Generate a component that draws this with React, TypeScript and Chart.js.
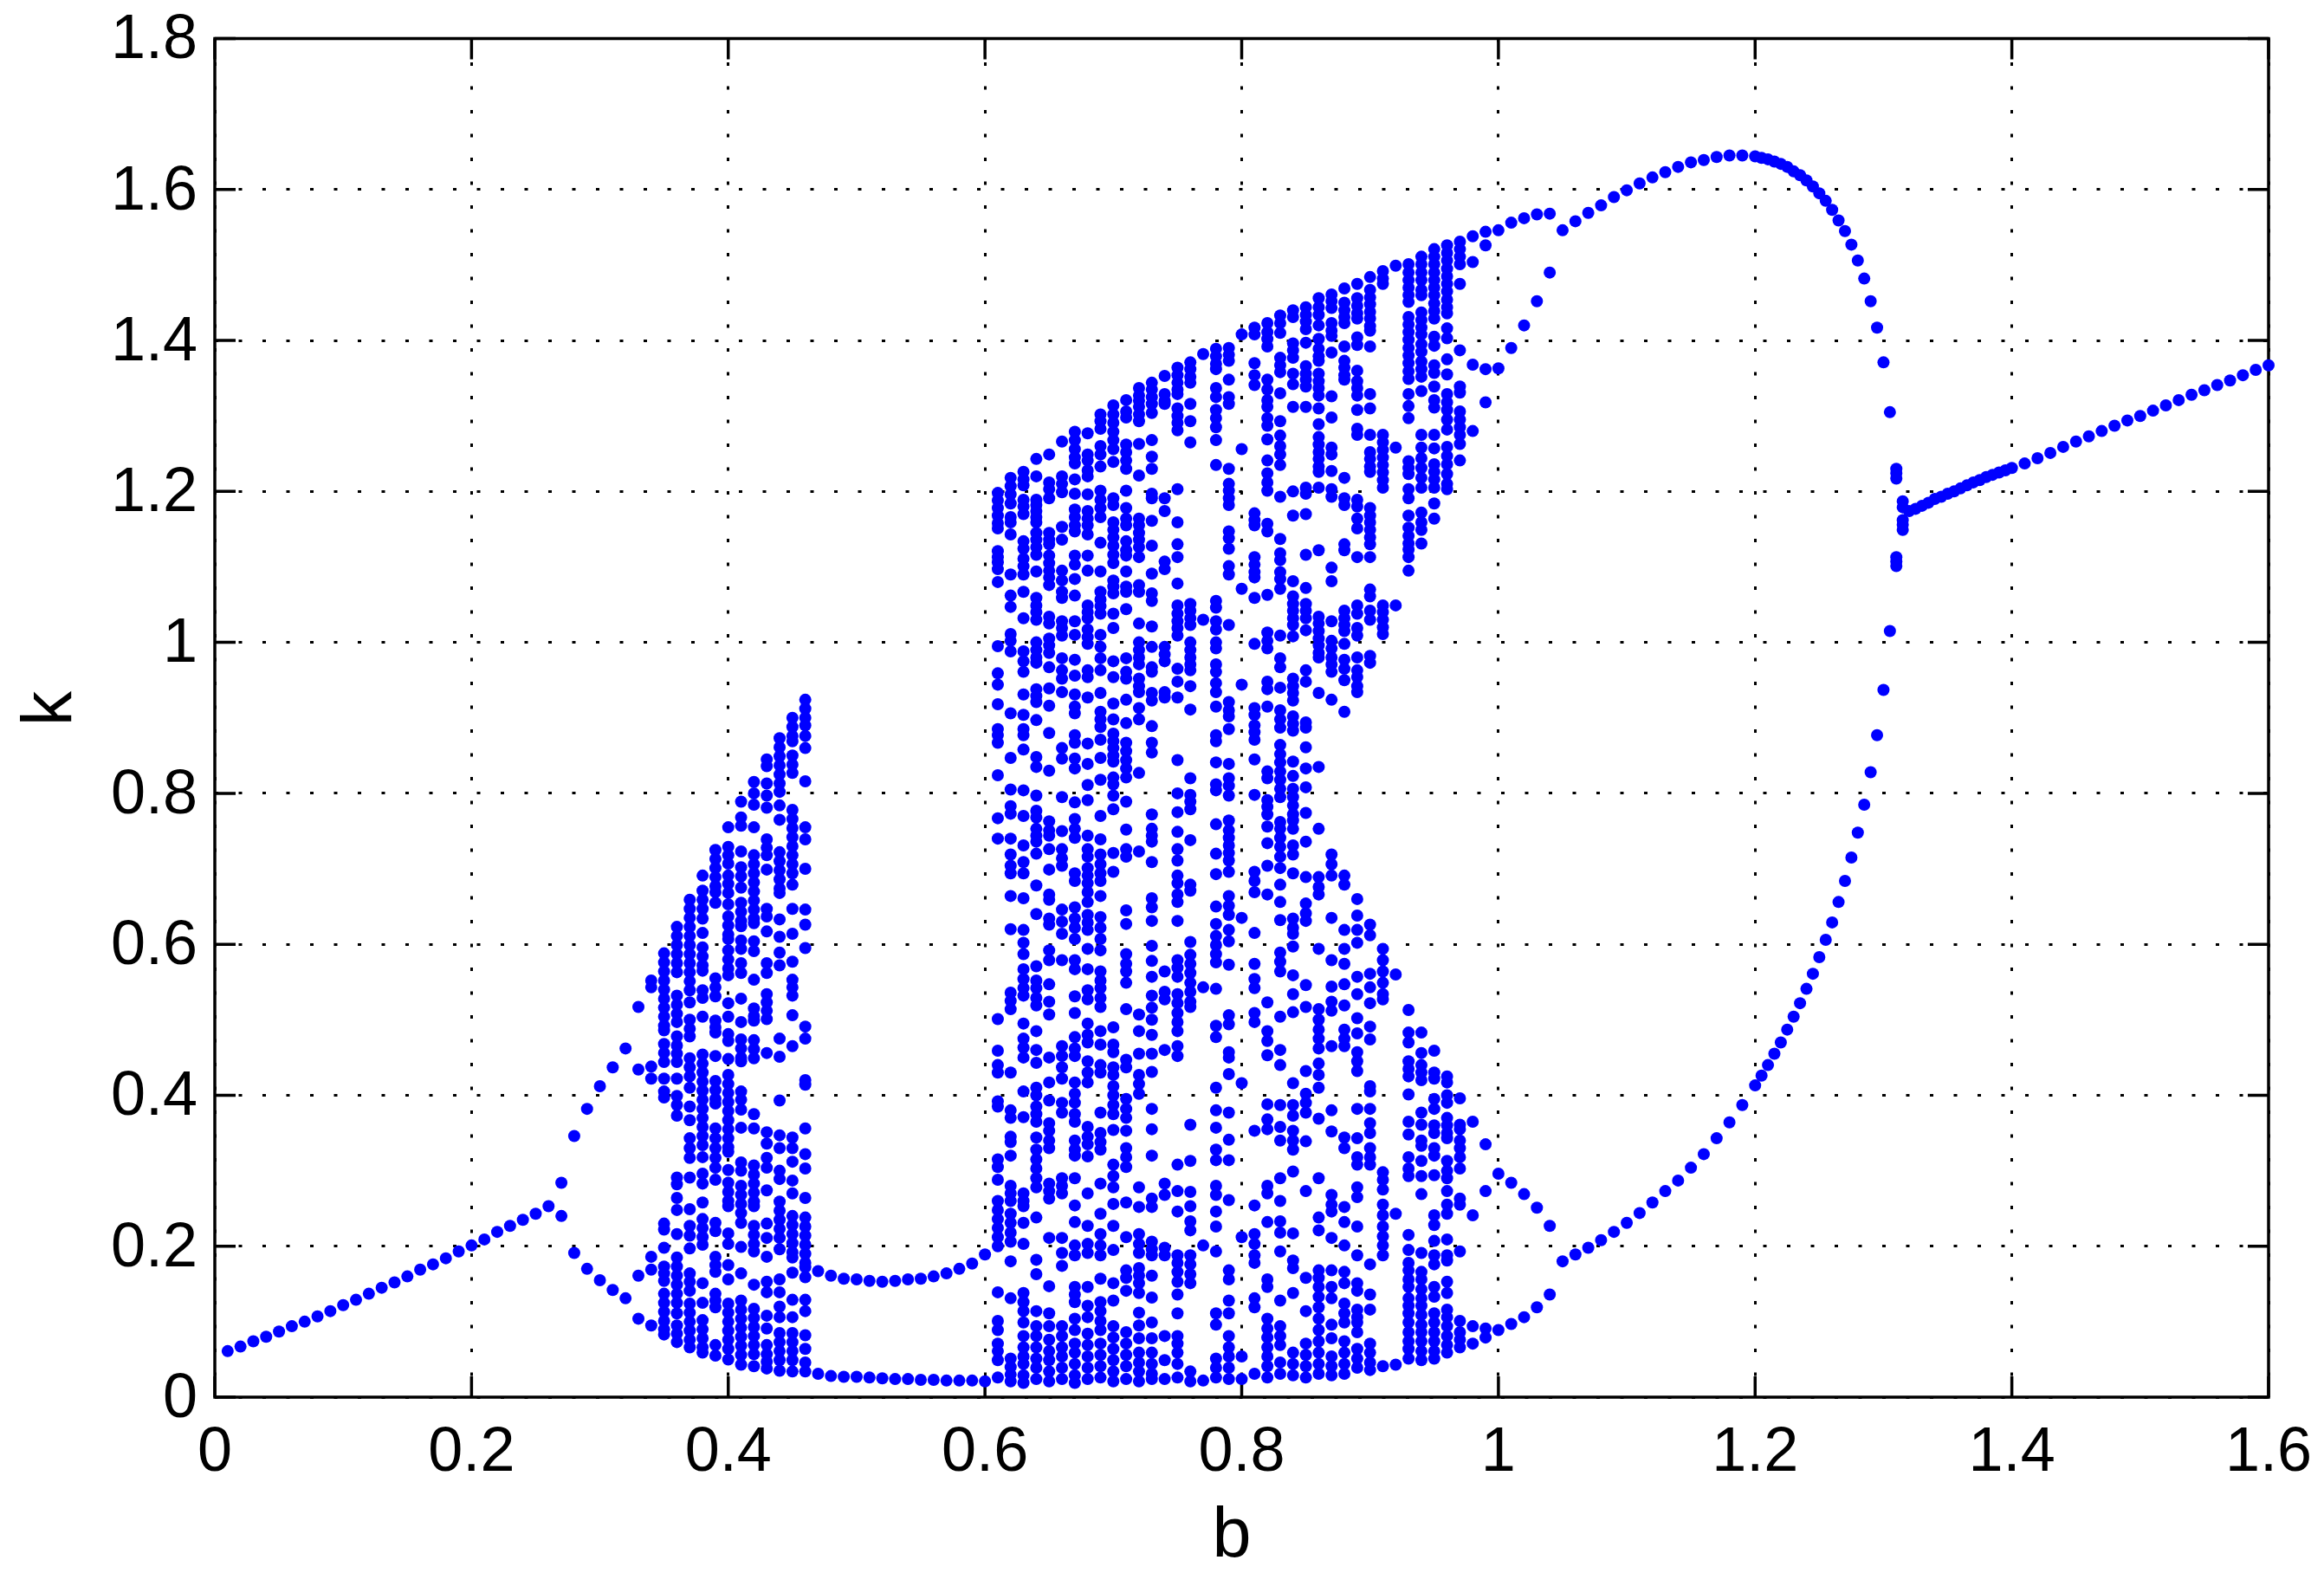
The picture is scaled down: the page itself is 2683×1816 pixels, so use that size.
import { useEffect, useRef } from "react"
import { Chart, registerables } from "chart.js"

Chart.register(...registerables)

const xTickValues = [0, 0.2, 0.4, 0.6, 0.8, 1, 1.2, 1.4, 1.6]
const xTickLabels = ["0", "0.2", "0.4", "0.6", "0.8", "1", "1.2", "1.4", "1.6"]
const yTickValues = [0, 0.2, 0.4, 0.6, 0.8, 1, 1.2, 1.4, 1.6, 1.8]
const yTickLabels = ["0", "0.2", "0.4", "0.6", "0.8", "1", "1.2", "1.4", "1.6", "1.8"]

// single branch before the first split
const rampB = [.01, .02, .03, .04, .05, .06, .07, .08, .09, .10, .11, .12, .13, .14, .15, .16, .17, .18, .19, .20, .21, .22, .23, .24, .25, .26]
const rampK = [.061, .067, .074, .08, .087, .094, .1, .107, .114, .122, .129, .137, .145, .152, .16, .169, .176, .184, .193, .201, .209, .219, .227, .235, .243, .253]

// columns of k per b
const bandB = [.27, .28, .29, .30, .31, .32, .33, .34, .35, .36, .37, .38, .39, .40, .41, .42, .43, .44, .45, .46,
  .47, .48, .49, .50, .51, .52, .53, .54, .55, .56, .57, .58, .59, .60,
  .61, .62, .63, .64, .65, .66, .67, .68, .69, .70, .71, .72, .73, .74, .75, .76, .77, .78, .79, .80,
  .81, .82, .83, .84, .85, .86, .87, .88, .89, .90, .91, .92, .93, .94, .95, .96, .97, .98, .99, 1, 1.01, 1.02, 1.03, 1.04]
const bandK: number[][] = [
  [.284, .24],
  [.346, .191],
  [.382, .17],
  [.412, .155],
  [.437, .142],
  [.462, .131],
  [.517, .434, .161, .104],
  [.552, .543, .438, .422, .186, .169, .095],
  [.588, .576, .564, .552, .54, .528, .516, .504, .492, .486, .468, .456, .444, .422, .405, .397, .23, .222, .198, .173, .164, .154, .137, .125, .113, .101, .09, .083],
  [.623, .611, .599, .587, .575, .563, .532, .52, .508, .497, .478, .466, .455, .444, .422, .399, .387, .373, .291, .282, .264, .248, .216, .185, .173, .161, .149, .137, .125, .111, .095, .084, .073],
  [.659, .647, .635, .623, .611, .599, .587, .575, .563, .551, .539, .523, .5, .488, .478, .449, .437, .425, .41, .385, .367, .343, .33, .317, .291, .249, .227, .214, .197, .164, .153, .141, .124, .112, .1, .088, .076, .066],
  [.691, .671, .659, .647, .634, .615, .596, .584, .572, .565, .539, .529, .504, .454, .442, .43, .418, .406, .394, .382, .37, .358, .346, .334, .318, .296, .283, .258, .236, .224, .212, .202, .151, .125, .102, .09, .078, .066, .059],
  [.725, .713, .701, .689, .677, .669, .655, .555, .543, .531, .499, .49, .483, .452, .419, .407, .395, .389, .356, .343, .33, .317, .304, .288, .231, .22, .186, .175, .166, .137, .128, .119, .069, .055],
  [.755, .729, .718, .707, .691, .68, .668, .653, .637, .625, .613, .607, .592, .58, .568, .559, .522, .504, .481, .472, .448, .427, .415, .403, .391, .379, .367, .355, .343, .331, .325, .301, .284, .272, .26, .253, .217, .203, .175, .156, .124, .112, .1, .088, .076, .064, .05],
  [.789, .768, .757, .723, .702, .69, .675, .655, .643, .631, .624, .605, .594, .575, .562, .528, .497, .474, .462, .45, .445, .405, .394, .381, .357, .311, .3, .28, .268, .256, .244, .231, .199, .164, .128, .116, .104, .092, .08, .068, .056, .043],
  [.815, .8, .785, .755, .718, .706, .694, .682, .67, .658, .646, .634, .628, .604, .591, .553, .515, .505, .499, .473, .461, .449, .375, .356, .307, .295, .283, .271, .259, .253, .227, .215, .203, .193, .149, .117, .105, .093, .081, .069, .057, .041],
  [.845, .836, .813, .797, .781, .739, .728, .718, .699, .647, .637, .617, .575, .562, .534, .523, .512, .501, .456, .351, .336, .317, .304, .274, .23, .211, .186, .153, .139, .108, .091, .069, .057, .047, .038],
  [.873, .861, .849, .837, .825, .813, .802, .784, .765, .722, .71, .698, .686, .674, .668, .633, .61, .589, .572, .475, .451, .393, .347, .33, .3, .289, .259, .247, .235, .223, .211, .196, .156, .139, .12, .106, .085, .073, .061, .049, .035],
  [.9, .888, .876, .869, .85, .838, .827, .778, .766, .754, .742, .73, .718, .706, .694, .679, .647, .614, .577, .553, .543, .532, .506, .465, .344, .33, .312, .287, .27, .24, .228, .216, .204, .192, .185, .165, .129, .106, .085, .073, .061, .049, .034],
  [.924, .912, .9, .89, .876, .86, .816, .755, .739, .7, .646, .626, .595, .491, .475, .42, .414, .356, .322, .303, .264, .238, .226, .214, .202, .19, .178, .172, .159, .129, .114, .082, .064, .046, .034],
  [.167, .031],
  [.161, .028],
  [.157, .027],
  [.156, .027],
  [.154, .026],
  [.153, .025],
  [.154, .024],
  [.156, .024],
  [.157, .023],
  [.16, .023],
  [.164, .022],
  [.17, .022],
  [.177, .022],
  [.189, .021],
  [1.198, 1.188, 1.178, 1.168, 1.158, 1.151, 1.121, 1.113, 1.106, 1.097, 1.08, .995, .959, .944, .918, .885, .877, .867, .824, .767, .74, .501, .459, .44, .43, .392, .385, .315, .305, .288, .26, .248, .236, .224, .212, .2, .139, .101, .089, .071, .061, .049, .026],
  [1.218, 1.207, 1.196, 1.184, 1.166, 1.159, 1.143, 1.09, 1.062, 1.047, 1.011, 1.002, .988, .906, .847, .805, .783, .773, .74, .719, .704, .694, .664, .62, .536, .525, .514, .43, .38, .37, .345, .338, .32, .28, .27, .26, .243, .231, .218, .206, .18, .131, .051, .04, .03, .021],
  [1.226, 1.216, 1.208, 1.189, 1.18, 1.17, 1.134, 1.124, 1.111, 1.101, 1.09, 1.067, 1.032, .988, .975, .961, .931, .904, .885, .877, .858, .804, .77, .731, .709, .694, .661, .619, .602, .587, .567, .554, .542, .532, .495, .475, .463, .45, .405, .371, .27, .26, .253, .231, .203, .138, .126, .114, .099, .081, .066, .054, .044, .029, .019],
  [1.243, 1.22, 1.189, 1.182, 1.174, 1.166, 1.159, 1.145, 1.136, 1.126, 1.116, 1.094, 1.059, 1.049, 1.04, 1.03, 1, .99, .98, .973, .938, .929, .921, .897, .848, .835, .797, .777, .768, .753, .744, .736, .72, .678, .64, .571, .552, .542, .529, .519, .485, .46, .443, .41, .4, .385, .375, .365, .344, .328, .315, .303, .29, .278, .238, .182, .163, .114, .094, .081, .066, .051, .039, .024],
  [1.249, 1.212, 1.203, 1.191, 1.145, 1.136, 1.13, 1.115, 1.105, 1.095, 1.086, 1.076, 1.034, 1.025, 1.005, .996, .986, .967, .939, .916, .88, .83, .763, .751, .744, .726, .699, .666, .659, .634, .626, .592, .579, .547, .524, .507, .45, .417, .393, .363, .353, .34, .33, .283, .273, .263, .211, .147, .111, .094, .076, .061, .049, .034, .021],
  [1.266, 1.22, 1.21, 1.199, 1.153, 1.136, 1.095, 1.082, 1.067, 1.059, 1.028, 1.019, 1.009, .979, .963, .952, .934, .86, .846, .795, .75, .726, .714, .704, .646, .63, .614, .579, .465, .452, .437, .422, .39, .377, .29, .28, .27, .211, .191, .174, .094, .081, .066, .054, .039, .024],
  [1.279, 1.268, 1.256, 1.245, 1.237, 1.216, 1.197, 1.176, 1.166, 1.155, 1.147, 1.115, 1.103, 1.084, 1.062, 1.028, 1.01, .977, .956, .931, .915, .906, .877, .867, .846, .833, .788, .766, .753, .741, .694, .684, .649, .634, .622, .607, .579, .567, .531, .509, .477, .462, .452, .417, .402, .39, .375, .365, .34, .328, .32, .29, .254, .232, .201, .188, .146, .136, .126, .104, .089, .071, .059, .044, .029, .019],
  [1.277, 1.249, 1.241, 1.228, 1.22, 1.196, 1.174, 1.164, 1.155, 1.143, 1.115, 1.095, 1.049, 1.04, 1.032, 1.017, 1.007, .998, .963, .954, .927, .866, .839, .811, .791, .744, .726, .716, .701, .691, .681, .669, .656, .639, .629, .619, .594, .567, .539, .527, .495, .48, .47, .445, .43, .417, .358, .345, .335, .319, .27, .227, .203, .191, .146, .121, .106, .084, .069, .054, .039, .024],
  [1.302, 1.293, 1.283, 1.26, 1.249, 1.233, 1.201, 1.189, 1.178, 1.166, 1.132, 1.094, 1.067, 1.057, 1.048, 1.038, 1.01, .994, .979, .963, .933, .908, .898, .888, .871, .847, .818, .77, .739, .719, .706, .694, .684, .664, .636, .622, .607, .592, .564, .552, .542, .529, .517, .485, .467, .44, .43, .377, .35, .338, .328, .283, .243, .216, .201, .188, .157, .126, .114, .101, .089, .071, .056, .041, .026],
  [1.314, 1.302, 1.291, 1.279, 1.268, 1.256, 1.239, 1.191, 1.182, 1.159, 1.149, 1.139, 1.128, 1.116, 1.105, 1.082, 1.074, 1.065, 1.038, 1.019, .975, .954, .919, .898, .879, .869, .86, .85, .842, .821, .812, .797, .779, .721, .696, .49, .467, .457, .437, .427, .412, .4, .387, .375, .354, .308, .293, .278, .256, .227, .195, .151, .128, .094, .079, .064, .049, .034, .021],
  [1.321, 1.306, 1.298, 1.262, 1.252, 1.241, 1.23, 1.201, 1.178, 1.164, 1.155, 1.134, 1.122, 1.115, 1.094, 1.074, 1.067, 1.044, .979, .961, .952, .924, .893, .867, .856, .844, .833, .821, .789, .752, .726, .716, .645, .627, .587, .574, .564, .549, .514, .447, .437, .395, .382, .37, .353, .33, .318, .305, .258, .212, .168, .158, .141, .086, .071, .056, .041, .024],
  [1.337, 1.327, 1.32, 1.312, 1.302, 1.293, 1.263, 1.221, 1.164, 1.155, 1.145, 1.136, 1.126, 1.113, 1.076, 1.067, 1.025, 1, .99, .98, .971, .952, .942, .934, .913, .898, .827, .723, .507, .485, .455, .427, .415, .402, .278, .252, .216, .203, .191, .171, .161, .151, .138, .112, .095, .078, .059, .046, .034, .021],
  [1.344, 1.335, 1.325, 1.316, 1.304, 1.268, 1.246, 1.23, 1.197, 1.191, 1.161, 1.128, 1.091, 1.065, 1.055, 1.021, .994, .967, .961, .933, .923, .889, .867, .854, .772, .753, .744, .736, .709, .661, .649, .631, .598, .578, .557, .532, .516, .5, .48, .455, .431, .382, .355, .32, .263, .252, .206, .196, .188, .161, .132, .099, .078, .059, .044, .031, .024],
  [1.353, 1.329, 1.32, 1.316, 1.191, 1.174, 1.107, 1.097, .994, .984, .975, .934, .927, .564, .537, .527, .46, .283, .268, .198, .188, .081, .049, .024],
  [1.364, 1.354, 1.344, 1.335, 1.329, 1.31, 1.3, 1.291, 1.281, 1.203, 1.159, 1.13, 1.113, 1.078, 1.049, 1.038, 1.028, 1.019, 1.009, .965, .948, .927, .844, .8, .775, .749, .726, .711, .691, .681, .666, .656, .631, .579, .569, .557, .534, .522, .509, .497, .485, .465, .452, .308, .273, .246, .188, .178, .166, .153, .136, .111, .081, .071, .059, .044, .026],
  [1.371, 1.362, 1.352, 1.344, 1.316, 1.293, 1.265, 1.051, 1.042, 1.032, 1.023, 1, .99, .98, .971, .963, .942, .911, .82, .798, .789, .779, .738, .679, .671, .603, .586, .574, .562, .549, .537, .524, .517, .361, .313, .272, .253, .233, .221, .188, .176, .163, .151, .034, .021],
  [1.382, 1.03, .543, .201, .022],
  [1.389, 1.379, 1.369, 1.362, 1.337, 1.325, 1.308, 1.297, 1.285, 1.268, 1.235, 1.055, 1.046, 1.028, 1.017, 1, .992, .971, .961, .946, .934, .915, .877, .869, .841, .812, .804, .759, .72, .693, .65, .627, .611, .599, .587, .576, .541, .492, .477, .41, .38, .357, .328, .314, .28, .268, .246, .226, .193, .111, .096, .051, .039, .026],
  [1.39, 1.381, 1.373, 1.348, 1.325, 1.316, 1.23, 1.21, 1.201, 1.191, 1.182, 1.147, 1.138, 1.124, 1.101, 1.09, 1.023, .921, .91, .902, .885, .839, .82, .81, .797, .764, .751, .741, .731, .721, .711, .696, .664, .651, .639, .619, .604, .573, .506, .494, .457, .45, .428, .377, .341, .314, .261, .168, .156, .128, .111, .081, .066, .054, .039, .024],
  [1.408, 1.256, 1.071, .944, .635, .416, .212, .054, .024],
  [1.417, 1.408, 1.37, 1.354, 1.341, 1.171, 1.162, 1.155, 1.113, 1.103, 1.093, 1.086, 1.059, .998, .913, .904, .89, .881, .871, .845, .798, .696, .684, .669, .615, .574, .554, .542, .509, .497, .353, .254, .216, .203, .188, .178, .131, .119, .031],
  [1.423, 1.411, 1.402, 1.392, 1.348, 1.335, 1.321, 1.312, 1.297, 1.287, 1.269, 1.241, 1.224, 1.212, 1.201, 1.157, 1.147, 1.063, 1.013, 1.002, .992, .948, .938, .915, .829, .82, .791, .782, .772, .756, .734, .704, .666, .523, .485, .472, .453, .388, .368, .355, .28, .27, .232, .156, .146, .104, .091, .079, .066, .054, .041, .026],
  [1.433, 1.423, 1.41, 1.377, 1.367, 1.358, 1.33, 1.293, 1.274, 1.26, 1.249, 1.235, 1.193, 1.137, 1.118, 1.109, 1.093, 1.084, 1.071, 1.009, .979, .967, .94, .91, .898, .887, .864, .852, .841, .829, .818, .806, .795, .762, .753, .741, .729, .716, .701, .679, .656, .632, .589, .577, .564, .504, .46, .44, .387, .358, .34, .29, .26, .233, .218, .193, .128, .094, .081, .069, .046, .031],
  [1.44, 1.431, 1.396, 1.387, 1.377, 1.356, 1.342, 1.312, 1.2, 1.168, 1.081, 1.061, 1.051, 1.042, 1.032, 1.023, 1.008, .952, .942, .933, .923, .902, .892, .883, .842, .823, .806, .795, .784, .772, .764, .753, .731, .719, .694, .634, .622, .614, .597, .559, .534, .51, .416, .387, .373, .353, .34, .328, .299, .217, .181, .171, .138, .059, .044, .029],
  [1.444, 1.434, 1.425, 1.415, 1.397, 1.366, 1.356, 1.348, 1.339, 1.312, 1.205, 1.197, 1.17, 1.116, 1.072, 1.051, 1.042, 1.032, 1.016, .963, .948, .894, .887, .861, .833, .808, .774, .736, .689, .654, .641, .631, .546, .517, .432, .402, .39, .377, .339, .273, .158, .114, .071, .056, .041, .026],
  [1.456, 1.444, 1.434, 1.42, 1.402, 1.389, 1.379, 1.373, 1.356, 1.346, 1.337, 1.327, 1.31, 1.289, 1.272, 1.262, 1.252, 1.243, 1.233, 1.226, 1.205, 1.122, 1.034, 1.025, 1.015, 1.005, .996, .986, .98, .933, .835, .753, .689, .676, .666, .594, .514, .5, .487, .475, .462, .442, .427, .41, .369, .29, .238, .221, .168, .158, .146, .133, .119, .104, .089, .074, .059, .044, .031],
  [1.461, 1.452, 1.443, 1.423, 1.413, 1.406, 1.384, 1.326, 1.298, 1.258, 1.249, 1.227, 1.203, 1.193, 1.099, 1.081, 1.028, 1.002, .992, .98, .971, .961, .924, .719, .706, .691, .635, .579, .544, .524, .512, .465, .38, .352, .268, .255, .246, .211, .168, .146, .131, .096, .078, .054, .041, .029],
  [1.469, 1.45, 1.44, 1.431, 1.423, 1.392, 1.373, 1.364, 1.354, 1.348, 1.218, 1.191, 1.182, 1.13, 1.122, 1.042, 1.032, 1.023, 1.015, .998, .977, .965, .95, .908, .691, .679, .619, .594, .574, .547, .519, .487, .475, .465, .344, .33, .252, .232, .201, .166, .151, .124, .111, .099, .074, .059, .044, .031],
  [1.475, 1.456, 1.446, 1.436, 1.429, 1.404, 1.394, 1.36, 1.346, 1.337, 1.327, 1.308, 1.283, 1.275, 1.189, 1.18, 1.164, 1.151, 1.113, 1.049, 1.038, 1.019, 1.009, .98, .963, .954, .942, .934, .66, .638, .619, .602, .557, .534, .502, .482, .457, .445, .432, .382, .343, .318, .308, .278, .265, .226, .188, .151, .141, .116, .106, .099, .086, .064, .051, .039],
  [1.484, 1.467, 1.457, 1.448, 1.438, 1.429, 1.419, 1.413, 1.392, 1.329, 1.31, 1.275, 1.252, 1.243, 1.233, 1.226, 1.178, 1.168, 1.159, 1.149, 1.139, 1.13, 1.113, 1.07, 1.061, 1.042, 1.03, .982, .973, .626, .612, .561, .543, .522, .491, .474, .412, .405, .382, .363, .35, .33, .318, .308, .176, .136, .116, .071, .059, .046, .036],
  [1.492, 1.482, 1.475, 1.275, 1.265, 1.255, 1.245, 1.235, 1.225, 1.215, 1.205, 1.049, 1.04, 1.03, 1.02, 1.011, .594, .579, .564, .549, .534, .527, .298, .288, .275, .255, .241, .226, .213, .201, .188, .041],
  [1.499, 1.258, 1.049, .56, .243, .043],
  [1.501, 1.49, 1.48, 1.47, 1.46, 1.451, 1.431, 1.421, 1.411, 1.401, 1.39, 1.38, 1.37, 1.359, 1.349, 1.329, 1.313, 1.297, 1.24, 1.231, 1.223, 1.203, 1.191, 1.168, 1.152, 1.141, 1.131, 1.123, 1.113, 1.095, .513, .483, .47, .445, .435, .425, .401, .365, .348, .318, .303, .293, .215, .195, .178, .168, .156, .146, .131, .121, .111, .099, .086, .074, .064, .051],
  [1.511, 1.501, 1.49, 1.48, 1.467, 1.46, 1.437, 1.427, 1.417, 1.408, 1.395, 1.385, 1.372, 1.362, 1.352, 1.333, 1.275, 1.258, 1.244, 1.231, 1.218, 1.205, 1.172, 1.159, 1.149, 1.131, .483, .456, .44, .43, .42, .377, .361, .34, .333, .313, .293, .269, .191, .166, .156, .143, .131, .121, .109, .096, .086, .074, .061, .049],
  [1.521, 1.511, 1.501, 1.49, 1.48, 1.47, 1.46, 1.449, 1.439, 1.429, 1.405, 1.393, 1.367, 1.357, 1.339, 1.321, 1.311, 1.275, 1.257, 1.236, 1.226, 1.216, 1.205, 1.184, 1.164, .459, .43, .422, .395, .382, .36, .35, .33, .32, .294, .241, .228, .207, .188, .176, .146, .133, .111, .099, .086, .074, .061, .051],
  [1.526, 1.516, 1.506, 1.495, 1.485, 1.475, 1.465, 1.454, 1.444, 1.436, 1.416, 1.403, 1.375, 1.355, 1.329, 1.318, 1.308, 1.295, 1.282, 1.259, 1.247, 1.236, 1.223, 1.21, 1.203, .425, .417, .4, .39, .37, .36, .35, .343, .313, .3, .29, .273, .255, .243, .209, .188, .181, .153, .138, .116, .106, .094, .081, .069, .059],
  [1.531, 1.521, 1.511, 1.501, 1.475, 1.387, 1.339, 1.331, 1.306, 1.295, 1.285, 1.275, 1.263, 1.241, .396, .361, .355, .34, .33, .318, .303, .263, .255, .193, .101, .086, .076, .066],
  [1.538, 1.504, 1.368, 1.28, .365, .241, .094, .071],
  [1.544, 1.526, 1.362, 1.318, .335, .273, .091, .079],
  [1.546, 1.363, .296, .089],
  [1.556, 1.39, .284, .097],
  [1.562, 1.42, .269, .106],
  [1.567, 1.452, .251, .119],
  [1.568, 1.49, .227, .136],
]

// top arc and the drop after the band ends
const arcB = [1.05, 1.06, 1.07, 1.08, 1.09, 1.10, 1.11, 1.12, 1.13, 1.14, 1.15, 1.16, 1.17, 1.18, 1.19, 1.20,
  1.205, 1.21, 1.215, 1.22, 1.225, 1.23, 1.235, 1.24, 1.245, 1.25, 1.255, 1.26, 1.265, 1.27, 1.275, 1.28, 1.285, 1.29, 1.295, 1.30, 1.305,
  1.31, 1.31, 1.31, 1.315, 1.315, 1.315, 1.315, 1.315]
const arcK = [1.546, 1.558, 1.569, 1.579, 1.59, 1.599, 1.608, 1.616, 1.623, 1.63, 1.636, 1.639, 1.643, 1.645, 1.645, 1.644,
  1.642, 1.64, 1.637, 1.634, 1.63, 1.624, 1.619, 1.612, 1.604, 1.595, 1.585, 1.573, 1.559, 1.545, 1.527, 1.506, 1.482, 1.452, 1.417, 1.371, 1.305,
  1.23, 1.224, 1.217, 1.187, 1.179, 1.162, 1.156, 1.149]

// bottom arc climbing back up to the drop
const lowB = [1.05, 1.06, 1.07, 1.08, 1.09, 1.10, 1.11, 1.12, 1.13, 1.14, 1.15, 1.16, 1.17, 1.18, 1.19, 1.20,
  1.205, 1.21, 1.215, 1.22, 1.225, 1.23, 1.235, 1.24, 1.245, 1.25, 1.255, 1.26, 1.265, 1.27, 1.275, 1.28, 1.285, 1.29, 1.295, 1.30, 1.305, 1.31, 1.31, 1.31]
const lowK = [.18, .189, .198, .208, .219, .231, .244, .258, .273, .287, .304, .322, .343, .364, .387, .413,
  .426, .44, .455, .47, .487, .504, .522, .541, .561, .583, .606, .629, .656, .684, .715, .748, .785, .828, .877, .937, 1.015, 1.101, 1.107, 1.113]

// last straight branch
const tailB = [1.32, 1.325, 1.33, 1.335, 1.34, 1.345, 1.35, 1.355, 1.36, 1.365, 1.37, 1.375, 1.38, 1.385, 1.39, 1.395, 1.40,
  1.41, 1.42, 1.43, 1.44, 1.45, 1.46, 1.47, 1.48, 1.49, 1.50, 1.51, 1.52, 1.53, 1.54, 1.55, 1.56, 1.57, 1.58, 1.59, 1.60]
const tailK = [1.174, 1.177, 1.181, 1.185, 1.19, 1.193, 1.197, 1.2, 1.204, 1.208, 1.212, 1.215, 1.219, 1.222, 1.225, 1.228, 1.231,
  1.237, 1.244, 1.251, 1.259, 1.266, 1.273, 1.28, 1.287, 1.294, 1.3, 1.307, 1.314, 1.321, 1.328, 1.334, 1.341, 1.347, 1.354, 1.361, 1.367]

const toPoints = (bs: number[], ks: number[]) => bs.map((b, i) => ({ x: b, y: ks[i] }))

const points = [
  ...toPoints(rampB, rampK),
  ...bandB.flatMap((b, i) => bandK[i].map((k) => ({ x: b, y: k }))),
  ...toPoints(arcB, arcK),
  ...toPoints(lowB, lowK),
  ...toPoints(tailB, tailK),
]

const fontFamily = '"Liberation Sans", Arial, sans-serif'
const tickLen = 24

// box round the plot with matlab style inward ticks on all four sides, plus the axis names
const framePlugin = {
  id: "frame",
  beforeDatasetsDraw(chart: Chart) {
    const { ctx, chartArea: a, scales } = chart
    ctx.save()
    ctx.strokeStyle = "#000"
    ctx.lineWidth = 3.5
    ctx.strokeRect(a.left, a.top, a.right - a.left, a.bottom - a.top)
    ctx.beginPath()
    xTickValues.forEach((v) => {
      const px = scales.x.getPixelForValue(v)
      ctx.moveTo(px, a.bottom)
      ctx.lineTo(px, a.bottom - tickLen)
      ctx.moveTo(px, a.top)
      ctx.lineTo(px, a.top + tickLen)
    })
    yTickValues.forEach((v) => {
      const py = scales.y.getPixelForValue(v)
      ctx.moveTo(a.left, py)
      ctx.lineTo(a.left + tickLen, py)
      ctx.moveTo(a.right, py)
      ctx.lineTo(a.right - tickLen, py)
    })
    ctx.stroke()

    ctx.fillStyle = "#000"
    ctx.font = `81px ${fontFamily}`
    ctx.textAlign = "center"
    ctx.textBaseline = "alphabetic"
    ctx.fillText("b", 1422, 1797)
    ctx.translate(82, 818)
    ctx.rotate(-Math.PI / 2)
    ctx.fillText("k", 0, 0)
    ctx.restore()
  },
}

export default function App() {
  const chartRef = useRef<HTMLCanvasElement>(null)
  const chartInstance = useRef<Chart | null>(null)

  useEffect(() => {
    if (!chartRef.current) return
    if (chartInstance.current) chartInstance.current.destroy()

    const grid = { color: "#000", lineWidth: 3, drawTicks: false }
    const border = { display: false, dash: [4, 23.5] }

    chartInstance.current = new Chart(chartRef.current, {
      type: "scatter",
      data: {
        datasets: [
          {
            data: points,
            backgroundColor: "#0000ff",
            pointRadius: 7,
            pointBorderWidth: 0,
            clip: false,
          },
        ],
      },
      options: {
        responsive: false,
        animation: false,
        devicePixelRatio: 1,
        layout: { padding: { top: 44.5, right: 64, left: 0, bottom: 0 } },
        plugins: { legend: { display: false }, tooltip: { enabled: false } },
        scales: {
          x: {
            type: "linear",
            min: 0,
            max: 1.6,
            grid,
            border,
            afterBuildTicks: (scale) => {
              scale.ticks = xTickValues.map((value) => ({ value }))
            },
            afterFit: (scale) => {
              scale.height = 203
              scale.paddingLeft = 0
              scale.paddingRight = 0
            },
            ticks: {
              color: "#000",
              padding: 22,
              maxRotation: 0,
              autoSkip: false,
              font: { family: fontFamily, size: 72 },
              callback: (_v, i) => xTickLabels[i],
            },
          },
          y: {
            type: "linear",
            min: 0,
            max: 1.8,
            grid,
            border,
            afterBuildTicks: (scale) => {
              scale.ticks = yTickValues.map((value) => ({ value }))
            },
            afterFit: (scale) => {
              scale.width = 248
              scale.paddingTop = 0
              scale.paddingBottom = 0
            },
            ticks: {
              color: "#000",
              padding: 20,
              labelOffset: 3,
              autoSkip: false,
              font: { family: fontFamily, size: 72 },
              callback: (_v, i) => yTickLabels[i],
            },
          },
        },
      },
      plugins: [framePlugin],
    })

    return () => {
      if (chartInstance.current) {
        chartInstance.current.destroy()
        chartInstance.current = null
      }
    }
  }, [])

  return (
    <div style={{ position: "fixed", left: 0, top: 0 }}>
      <canvas ref={chartRef} width={2683} height={1816} style={{ display: "block" }}></canvas>
    </div>
  )
}
